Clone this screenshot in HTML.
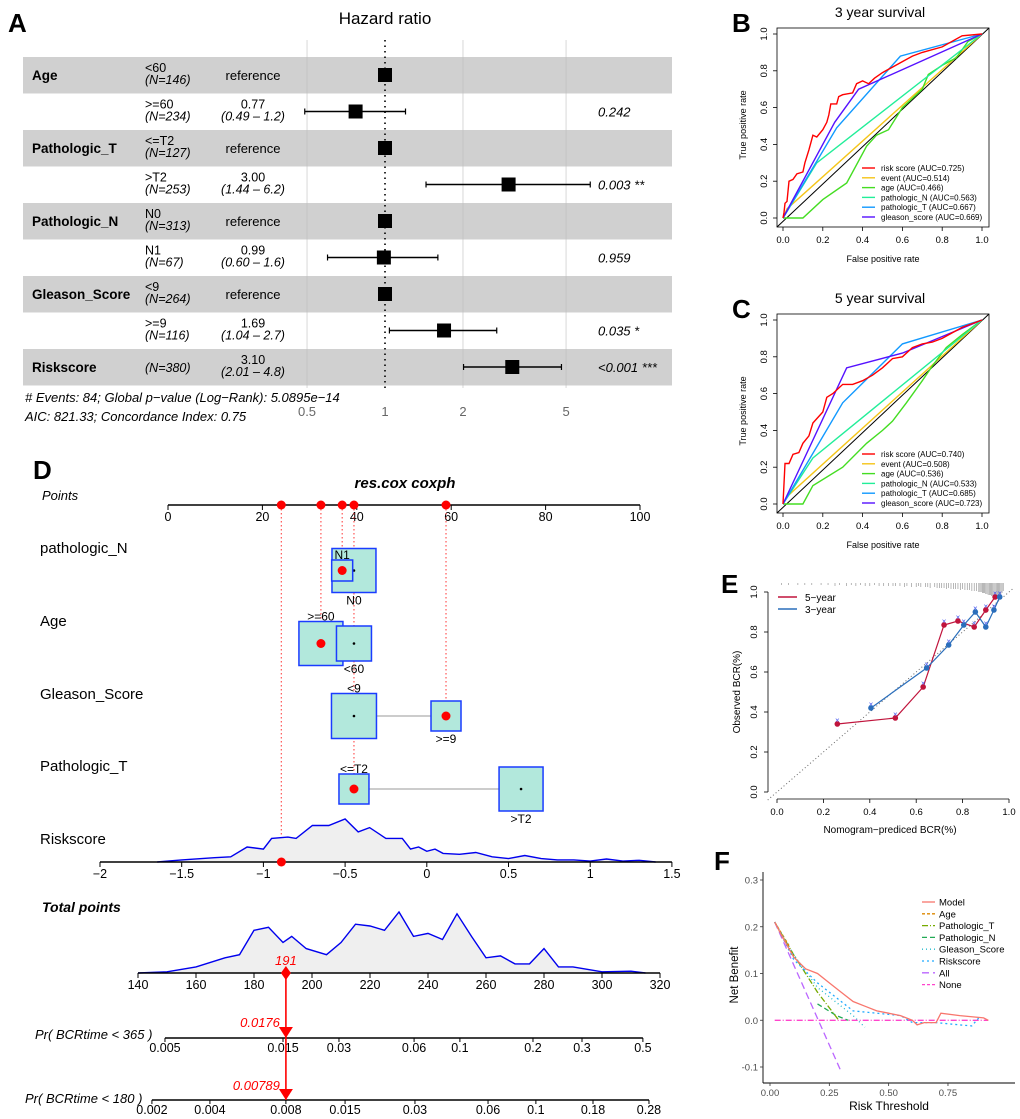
<!DOCTYPE html>
<html><head><meta charset="utf-8"><style>
html,body{margin:0;padding:0;background:#fff}
svg{display:block;font-family:"Liberation Sans",Arial,sans-serif}
</style></head><body>
<svg id="fig" width="1020" height="1119" viewBox="0 0 1020 1119" xmlns="http://www.w3.org/2000/svg">
<text x="8" y="32" font-size="26" font-weight="bold">A</text>
<text x="732" y="32" font-size="26" font-weight="bold">B</text>
<text x="732" y="318" font-size="26" font-weight="bold">C</text>
<text x="33" y="479" font-size="26" font-weight="bold">D</text>
<text x="721" y="593" font-size="26" font-weight="bold">E</text>
<text x="714" y="870" font-size="26" font-weight="bold">F</text>

<g id="forest">
<text x="385" y="24" font-size="17" text-anchor="middle">Hazard ratio</text>
</g>
<g id="rocB">
<text x="880" y="17" font-size="14" text-anchor="middle">3 year survival</text>
</g>
<g id="rocC">
<text x="880" y="303" font-size="14" text-anchor="middle">5 year survival</text>
</g>
<g id="nomo">
<text x="405" y="488" font-size="15" font-weight="bold" font-style="italic" text-anchor="middle">res.cox coxph</text>
</g>
<g id="calib"></g>
<g id="dca"></g>
</svg>
<script>
// ---------------- DATA ----------------
const forestHR = [1, 0.77, 1, 3.00, 1, 0.99, 1, 1.69, 3.10];
const forestLo = [null, 0.49, null, 1.44, null, 0.60, null, 1.04, 2.01];
const forestHi = [null, 1.2, null, 6.2, null, 1.6, null, 2.7, 4.8];
const forestTicks = [0.5, 1, 2, 5];

const rocB_risk_x = [0,0.005,0.01,0.02,0.03,0.05,0.07,0.1,0.11,0.13,0.15,0.17,0.2,0.22,0.23,0.24,0.27,0.28,0.3,0.35,0.37,0.4,0.43,0.46,0.5,0.55,0.6,0.65,0.7,0.8,0.9,1];
const rocB_risk_y = [0,0.03,0.08,0.09,0.2,0.21,0.24,0.25,0.3,0.37,0.45,0.44,0.48,0.52,0.56,0.62,0.62,0.66,0.67,0.68,0.73,0.745,0.73,0.76,0.79,0.82,0.85,0.88,0.9,0.93,0.99,1];
const rocB_event_x = [0,0.02,1];
const rocB_event_y = [0,0.05,1];
const rocB_age_x = [0,0.1,0.2,0.32,0.42,0.47,0.53,0.6,0.7,0.73,0.8,0.87,0.93,1];
const rocB_age_y = [0,0,0.1,0.19,0.39,0.45,0.48,0.6,0.7,0.78,0.83,0.87,0.96,1];
const rocB_N_x = [0,0.17,1];
const rocB_N_y = [0,0.3,1];
const rocB_T_x = [0,0.27,0.59,1];
const rocB_T_y = [0,0.49,0.88,1];
const rocB_G_x = [0,0.26,0.38,1];
const rocB_G_y = [0,0.52,0.7,1];

const rocC_risk_x = [0,0.01,0.03,0.05,0.08,0.1,0.13,0.15,0.2,0.22,0.25,0.3,0.35,0.4,0.45,0.5,0.55,0.6,0.65,0.7,0.75,0.8,0.9,1];
const rocC_risk_y = [0,0.22,0.22,0.27,0.28,0.33,0.37,0.44,0.5,0.58,0.6,0.65,0.65,0.67,0.7,0.74,0.79,0.8,0.85,0.87,0.88,0.9,0.96,1];
const rocC_event_x = [0,0.02,1];
const rocC_event_y = [0,0.04,1];
const rocC_age_x = [0,0.1,0.15,0.3,0.42,0.5,0.55,0.62,0.7,0.75,0.82,0.9,1];
const rocC_age_y = [0,0,0.1,0.2,0.33,0.4,0.45,0.55,0.67,0.75,0.85,0.92,1];
const rocC_N_x = [0,0.15,1];
const rocC_N_y = [0,0.25,1];
const rocC_T_x = [0,0.3,0.6,1];
const rocC_T_y = [0,0.55,0.87,1];
const rocC_G_x = [0,0.32,0.6,1];
const rocC_G_y = [0,0.74,0.82,1];

const rocTicks = [0, 0.2, 0.4, 0.6, 0.8, 1.0];
const rocNamesB = ["risk score (AUC=0.725)","event (AUC=0.514)","age (AUC=0.466)","pathologic_N (AUC=0.563)","pathologic_T (AUC=0.667)","gleason_score (AUC=0.669)"];
const rocNamesC = ["risk score (AUC=0.740)","event (AUC=0.508)","age (AUC=0.536)","pathologic_N (AUC=0.533)","pathologic_T (AUC=0.685)","gleason_score (AUC=0.723)"];

const cal5_x = [0.26,0.51,0.63,0.72,0.78,0.85,0.9,0.94];
const cal5_y = [0.34,0.37,0.525,0.835,0.855,0.825,0.91,0.975];
const cal3_x = [0.405,0.645,0.74,0.805,0.855,0.9,0.935,0.96];
const cal3_y = [0.42,0.62,0.735,0.835,0.9,0.825,0.91,0.975];
const calRug = [0.02,0.05,0.09,0.12,0.15,0.19,0.22,0.25,0.27,0.3,0.32,0.34,0.36,0.38,0.4,0.42,0.44,0.46,0.48,0.5,0.51,0.53,0.55,0.56,0.58,0.6,0.61,0.62,0.64,0.65,0.66,0.68,0.69,0.7,0.71,0.72,0.73,0.74,0.75,0.76,0.77,0.78,0.79,0.8,0.81,0.82,0.83,0.84,0.85,0.86,0.87,0.875,0.88,0.885,0.89,0.895,0.9,0.905,0.91,0.915,0.92,0.925,0.93,0.935,0.94,0.945,0.95,0.955,0.96,0.965,0.97,0.975];
const calRugLen = [2,2,2,2,2,2,2,3,2,3,2,3,2,3,3,2,3,3,3,3,3,3,4,3,4,4,3,4,4,4,5,4,5,5,5,5,6,5,6,6,6,6,7,6,7,7,7,8,8,8,9,9,9,10,10,10,11,11,12,12,12,13,13,14,14,14,15,14,13,12,10,8];
const calTicks = [0, 0.2, 0.4, 0.6, 0.8, 1.0];

const dcaModel_x = [0.02,0.05,0.1,0.15,0.2,0.25,0.3,0.35,0.4,0.45,0.5,0.55,0.6,0.62,0.65,0.7,0.72,0.8,0.9,0.92];
const dcaModel_y = [0.21,0.18,0.135,0.11,0.1,0.08,0.06,0.04,0.03,0.02,0.015,0.01,0,-0.01,-0.005,-0.005,0.015,0.01,0.005,0];
const dcaAll_x = [0.02,0.3];
const dcaAll_y = [0.21,-0.11];
const dcaRisk_x = [0.02,0.1,0.2,0.3,0.35,0.45,0.55,0.6,0.7,0.8,0.85,0.88];
const dcaRisk_y = [0.21,0.13,0.08,0.04,0.02,0.015,0.01,-0.005,-0.005,-0.01,-0.012,0.005];
const dcaGleason_x = [0.02,0.1,0.2,0.3,0.35,0.4];
const dcaGleason_y = [0.21,0.14,0.07,0.03,0.01,-0.015];
const dcaT_x = [0.02,0.1,0.2,0.29];
const dcaT_y = [0.21,0.14,0.06,0];
const dcaN_x = [0.2,0.28,0.33];
const dcaN_y = [0.035,0.01,0];
const dcaAge_x = [0.02,0.08];
const dcaAge_y = [0.21,0.16];
const dcaNone_x = [0.02,0.92];
const dcaNone_y = [0,0];
const dcaXTicks = [0, 0.25, 0.5, 0.75];
const dcaXLabels = ["0.00","0.25","0.50","0.75"];
const dcaYTicks = [-0.1, 0, 0.1, 0.2, 0.3];
const dcaYLabels = ["-0.1","0.0","0.1","0.2","0.3"];

const pointsTicks = [0,20,40,60,80,100];
const selPoints = [24, 32.4, 36.9, 39.4, 58.9];
const riskTicks = [-2,-1.5,-1,-0.5,0,0.5,1,1.5];
const riskDens_x = [-1.65,-1.5,-1.3,-1.2,-1.1,-1.0,-0.95,-0.85,-0.8,-0.7,-0.6,-0.5,-0.42,-0.35,-0.25,-0.15,-0.1,-0.05,0,0.05,0.1,0.2,0.3,0.4,0.5,0.6,0.7,0.8,0.9,1.0,1.1,1.2,1.3,1.4];
const riskDens_y = [0,0.05,0.1,0.12,0.35,0.3,0.55,0.58,0.55,0.85,0.85,1.0,0.7,0.8,0.55,0.55,0.3,0.35,0.25,0.3,0.2,0.18,0.22,0.12,0.08,0.15,0.08,0.05,0.05,0.02,0.07,0.02,0.04,0];
const selRisk = -0.89;
const totalTicks = [140,160,180,200,220,240,260,280,300,320];
const totDens_x = [140,150,160,170,175,180,185,190,193,198,205,210,215,220,225,230,235,240,245,250,255,260,265,270,275,280,285,290,300,310,315];
const totDens_y = [0,0.02,0.1,0.25,0.3,0.7,0.75,0.5,0.6,0.4,0.3,0.5,0.8,0.77,0.7,1.0,0.6,0.65,0.55,0.97,0.6,0.25,0.28,0.15,0.15,0.4,0.1,0.1,0.02,0.03,0];
const selTotal = 191;
const pr365Labels = ["0.005","0.015","0.03","0.06","0.1","0.2","0.3","0.5"];
const pr365AtTotal = [149.3,190,209.3,235.2,251,276.2,293.1,314.1];
const pr180Labels = ["0.002","0.004","0.008","0.015","0.03","0.06","0.1","0.18","0.28"];
const pr180AtTotal = [144.8,164.8,191,211.4,235.5,260.7,277.2,296.9,316.2];

// ---------------- HELPERS ----------------
const NS = "http://www.w3.org/2000/svg";
function mk(parent, tag, attrs, txt){
  const e = document.createElementNS(NS, tag);
  for (const k in attrs) e.setAttribute(k, attrs[k]);
  if (txt !== undefined) e.textContent = txt;
  parent.appendChild(e);
  return e;
}
function pathFrom(xs, ys, sx, sy){
  let d = "";
  for (let i=0;i<xs.length;i++) d += (i?"L":"M") + sx(xs[i]).toFixed(1) + "," + sy(ys[i]).toFixed(1);
  return d;
}

// ---------------- FOREST (A) ----------------
(function(){
  const g = document.getElementById('forest');
  const fx = v => 385 + Math.log(v)*112.5;
  const rowTop = i => 57 + i*36.5;
  const rowC = i => 75 + i*36.5;
  for (let i=0;i<9;i+=2){
    const r = mk(g,'rect',{x:23,y:rowTop(i),width:649,height:36.5,fill:'#d0d0d0'});
    
    
  }
  forestTicks.forEach(t=>{
    if (t===1) return;
    const l = mk(g,'line',{x1:fx(t),x2:fx(t),y1:40,y2:388,stroke:'#bbbbbb','stroke-width':0.8,opacity:0.7});
    
    
  });
  forestTicks.forEach(t=>{
    const tx = mk(g,'text',{x:fx(t),y:416,'font-size':13,fill:'#666','text-anchor':'middle'}, String(t));
    
    
  });
  const ref = mk(g,'line',{x1:fx(1),x2:fx(1),y1:40,y2:388,stroke:'#000','stroke-width':1.6,'stroke-dasharray':'1.5,4'});
  
  
  const labels = [["Age",0],["Pathologic_T",2],["Pathologic_N",4],["Gleason_Score",6],["Riskscore",8]];
  labels.forEach(([t,i])=>{
    const e = mk(g,'text',{x:32,y:rowC(i)+5,'font-size':13.5,'font-weight':'bold'},t);
    
    
  });
  const sub = ["<60",">=60","<=T2",">T2","N0","N1","<9",">=9",""];
  const nn = ["(N=146)","(N=234)","(N=127)","(N=253)","(N=313)","(N=67)","(N=264)","(N=116)","(N=380)"];
  const hrTxt = ["reference","0.77","reference","3.00","reference","0.99","reference","1.69","3.10"];
  const ciTxt = ["","(0.49 – 1.2)","","(1.44 – 6.2)","","(0.60 – 1.6)","","(1.04 – 2.7)","(2.01 – 4.8)"];
  const pTxt = ["","0.242","","0.003 **","","0.959","","0.035 *","<0.001 ***"];
  for (let i=0;i<9;i++){
    const c = rowC(i);
    if (sub[i]){
      const a = mk(g,'text',{x:145,y:c-3,'font-size':12.5},sub[i]);
      
      
      const b = mk(g,'text',{x:145,y:c+9,'font-size':12.5,'font-style':'italic'},nn[i]);
      
      
    } else {
      const b = mk(g,'text',{x:145,y:c+5,'font-size':12.5,'font-style':'italic'},nn[i]);
      
      
    }
    if (hrTxt[i]==="reference"){
      const h = mk(g,'text',{x:253,y:c+5,'font-size':13,'text-anchor':'middle'},"reference");
      
      
    } else {
      const h = mk(g,'text',{x:253,y:c-3,'font-size':12.5,'text-anchor':'middle'},hrTxt[i]);
      
      
      const ci = mk(g,'text',{x:253,y:c+9,'font-size':12.5,'font-style':'italic','text-anchor':'middle'},ciTxt[i]);
      
      
    }
    if (pTxt[i]){
      const p = mk(g,'text',{x:598,y:c+5,'font-size':13,'font-style':'italic'},pTxt[i]);
      
      
    }
    if (forestLo[i]!==null){
      const l = mk(g,'line',{x1:fx(forestLo[i]),x2:fx(forestHi[i]),y1:c,y2:c,stroke:'#000','stroke-width':1.6});
      
      
      [forestLo[i],forestHi[i]].forEach(v=>{
        const cap = mk(g,'line',{x1:fx(v),x2:fx(v),y1:c-3,y2:c+3,stroke:'#000','stroke-width':1.2});
        
        
      });
    }
    const s = mk(g,'rect',{x:fx(forestHR[i])-7,y:c-7,width:14,height:14,fill:'#000'});
    
    
  }
  const f1 = mk(g,'text',{x:25,y:402,'font-size':13,'font-style':'italic'},"# Events: 84; Global p−value (Log−Rank): 5.0895e−14");
  
  
  const f2 = mk(g,'text',{x:25,y:421,'font-size':13,'font-style':'italic'},"AIC: 821.33; Concordance Index: 0.75");
  
  
})();

// ---------------- ROC (B, C) ----------------
function drawROC(id, dy, series, names){
  const g = document.getElementById(id);
  const sx = v => 783 + v*199;
  const sy = v => 218 + dy - v*184;
  const box = mk(g,'rect',{x:777,y:28+dy,width:212,height:199,fill:'none',stroke:'#000','stroke-width':0.8});
  
  
  rocTicks.forEach(t=>{
    const a = mk(g,'line',{x1:sx(t),x2:sx(t),y1:227+dy,y2:231+dy,stroke:'#000','stroke-width':0.8});
    
    
    const at = mk(g,'text',{x:sx(t),y:243+dy,'font-size':9.5,'text-anchor':'middle'},t.toFixed(1));
    
    
    const b = mk(g,'line',{x1:773,x2:777,y1:sy(t),y2:sy(t),stroke:'#000','stroke-width':0.8});
    
    
    const bt = mk(g,'text',{x:767,y:sy(t),'font-size':9.5,'text-anchor':'middle',transform:`rotate(-90 767 ${sy(t)})`},t.toFixed(1));
    
    
  });
  const xt = mk(g,'text',{x:883,y:262+dy,'font-size':9,'text-anchor':'middle'},"False positive rate");
  
  
  const yt = mk(g,'text',{x:746,y:125+dy,'font-size':9,'text-anchor':'middle',transform:`rotate(-90 746 ${125+dy})`},"True positive rate");
  
  
  const diag = mk(g,'line',{x1:777,y1:227+dy,x2:989,y2:28+dy,stroke:'#000','stroke-width':1});
  
  
  const cols = ['#ff0000','#f5c518','#44dd22','#22ee99','#1199ff','#5511ff'];
  const order = [1,2,3,4,5,0];
  order.forEach(k=>{
    const s = series[k];
    const p = mk(g,'path',{d:pathFrom(s[0],s[1],sx,sy),fill:'none',stroke:cols[k],'stroke-width':1.4});
    
    
  });
  names.forEach((n,k)=>{
    const y = 168 + dy + k*9.8;
    const l = mk(g,'line',{x1:862,x2:875,y1:y,y2:y,stroke:cols[k],'stroke-width':1.4});
    
    
    const t = mk(g,'text',{x:881,y:y+3,'font-size':8},n);
    
    
  });
}
drawROC('rocB',0,[[rocB_risk_x,rocB_risk_y],[rocB_event_x,rocB_event_y],[rocB_age_x,rocB_age_y],[rocB_N_x,rocB_N_y],[rocB_T_x,rocB_T_y],[rocB_G_x,rocB_G_y]],rocNamesB);
drawROC('rocC',286,[[rocC_risk_x,rocC_risk_y],[rocC_event_x,rocC_event_y],[rocC_age_x,rocC_age_y],[rocC_N_x,rocC_N_y],[rocC_T_x,rocC_T_y],[rocC_G_x,rocC_G_y]],rocNamesC);

// ---------------- CALIBRATION (E) ----------------
(function(){
  const g = document.getElementById('calib');
  const sx = v => 777 + v*232;
  const sy = v => 792 - v*200;
  const la = mk(g,'line',{x1:768,x2:768,y1:sy(0),y2:sy(1),stroke:'#000','stroke-width':0.8});
  
  
  const ba = mk(g,'line',{x1:sx(0),x2:sx(1),y1:799,y2:799,stroke:'#000','stroke-width':0.8});
  
  
  calTicks.forEach(t=>{
    const a = mk(g,'line',{x1:sx(t),x2:sx(t),y1:799,y2:803,stroke:'#000','stroke-width':0.8});
    
    
    const at = mk(g,'text',{x:sx(t),y:815,'font-size':9.5,'text-anchor':'middle'},t.toFixed(1));
    
    
    const b = mk(g,'line',{x1:764,x2:768,y1:sy(t),y2:sy(t),stroke:'#000','stroke-width':0.8});
    
    
    const bt = mk(g,'text',{x:757,y:sy(t),'font-size':9.5,'text-anchor':'middle',transform:`rotate(-90 757 ${sy(t)})`},t.toFixed(1));
    
    
  });
  const xt = mk(g,'text',{x:890,y:833,'font-size':10,'text-anchor':'middle'},"Nomogram−prediced BCR(%)");
  
  
  const yt = mk(g,'text',{x:740,y:692,'font-size':10,'text-anchor':'middle',transform:'rotate(-90 740 692)'},"Observed BCR(%)");
  
  
  const d = mk(g,'line',{x1:sx(-0.04),y1:sy(-0.04),x2:sx(1.02),y2:sy(1.02),stroke:'#666','stroke-width':1,'stroke-dasharray':'1,2.5'});
  
  
  calRug.forEach((v,i)=>{
    const r = mk(g,'line',{x1:sx(v),x2:sx(v),y1:583,y2:583+calRugLen[i],stroke:'#888','stroke-width':0.6});
    
    
  });
  [[cal5_x,cal5_y,'#c0143c','5-year'],[cal3_x,cal3_y,'#2a6ebb','3-year']].forEach(([xs,ys,c,n])=>{
    const p = mk(g,'path',{d:pathFrom(xs,ys,sx,sy),fill:'none',stroke:c,'stroke-width':1.2});
    
    
    xs.forEach((x,i)=>{
      const m = mk(g,'text',{x:sx(x),y:sy(ys[i])-1,'font-size':8,fill:'#4455ee','text-anchor':'middle'},"×");
      
      
      const cc = mk(g,'circle',{cx:sx(x),cy:sy(ys[i]),r:2.8,fill:c});
      
      
    });
  });
  [['#c0143c','5−year',597],['#2a6ebb','3−year',609]].forEach(([c,t,y])=>{
    const l = mk(g,'line',{x1:778,x2:797,y1:y,y2:y,stroke:c,'stroke-width':1.4});
    
    
    const tx = mk(g,'text',{x:805,y:y+4,'font-size':10},t);
    
    
  });
})();

// ---------------- DCA (F) ----------------
(function(){
  const g = document.getElementById('dca');
  const sx = v => 770 + v*237.3;
  const sy = v => 1020.25 - v*467.5;
  const la = mk(g,'line',{x1:763,x2:763,y1:872,y2:1083,stroke:'#000','stroke-width':0.9});
  
  
  const ba = mk(g,'line',{x1:763,x2:1015,y1:1083,y2:1083,stroke:'#000','stroke-width':0.9});
  
  
  dcaYTicks.forEach((t,i)=>{
    const a = mk(g,'line',{x1:760,x2:763,y1:sy(t),y2:sy(t),stroke:'#333','stroke-width':0.8});
    
    
    const at = mk(g,'text',{x:758,y:sy(t)+3.5,'font-size':9.5,fill:'#4d4d4d','text-anchor':'end'},dcaYLabels[i]);
    
    
  });
  dcaXTicks.forEach((t,i)=>{
    const a = mk(g,'line',{x1:sx(t),x2:sx(t),y1:1083,y2:1086,stroke:'#333','stroke-width':0.8});
    
    
    const at = mk(g,'text',{x:sx(t),y:1096,'font-size':9.5,fill:'#4d4d4d','text-anchor':'middle'},dcaXLabels[i]);
    
    
  });
  const xt = mk(g,'text',{x:889,y:1110,'font-size':12,'text-anchor':'middle'},"Risk Threshold");
  
  
  const yt = mk(g,'text',{x:738,y:975,'font-size':11.5,'text-anchor':'middle',transform:'rotate(-90 738 975)'},"Net Benefit");
  
  
  const ser = [
    ['none',dcaNone_x,dcaNone_y,'#ff44cc','6,2,1,2'],
    ['all',dcaAll_x,dcaAll_y,'#bb66ff','7,4'],
    ['pathologic-n',dcaN_x,dcaN_y,'#22aa55','5,3'],
    ['pathologic-t',dcaT_x,dcaT_y,'#77aa00','6,2,1,2'],
    ['age',dcaAge_x,dcaAge_y,'#dd8800','3,2'],
    ['gleason-score',dcaGleason_x,dcaGleason_y,'#22bbcc','1,3'],
    ['riskscore',dcaRisk_x,dcaRisk_y,'#22aaff','2,3'],
    ['model',dcaModel_x,dcaModel_y,'#f8766d','']
  ];
  ser.forEach(([n,xs,ys,c,da])=>{
    const attrs = {d:pathFrom(xs,ys,sx,sy),fill:'none',stroke:c,'stroke-width':1.3};
    if (da) attrs['stroke-dasharray'] = da;
    const p = mk(g,'path',attrs);
    
    
  });
  const leg = [['Model','#f8766d',''],['Age','#dd8800','3,2'],['Pathologic_T','#77aa00','6,2,1,2'],['Pathologic_N','#22aa55','5,3'],['Gleason_Score','#22bbcc','1,3'],['Riskscore','#22aaff','2,3'],['All','#bb66ff','7,4'],['None','#ff44cc','3,2']];
  leg.forEach(([n,c,da],k)=>{
    const y = 902 + k*11.8;
    const attrs = {x1:922,x2:935,y1:y,y2:y,stroke:c,'stroke-width':1.3};
    if (da) attrs['stroke-dasharray'] = da;
    const l = mk(g,'line',attrs);
    
    
    const t = mk(g,'text',{x:939,y:y+3.5,'font-size':9.5},n);
    
    
  });
})();

// ---------------- NOMOGRAM (D) ----------------
(function(){
  const g = document.getElementById('nomo');
  const px = v => 168 + v*4.72;
  const rx = v => 100 + (v+2)*163.4;
  const tx = v => 138 + (v-140)*2.9;
  const lbl = (t,x,y,extra,name)=>{
    const e = mk(g,'text',Object.assign({x:x,y:y,'font-size':14},extra||{}),t);
    
    
    return e;
  };
  lbl("Points",42,500,{'font-style':'italic','font-size':13},'points-label');
  lbl("pathologic_N",40,553,{'font-size':15},'pathologic-n-label');
  lbl("Age",40,626,{'font-size':15},'age-label');
  lbl("Gleason_Score",40,699,{'font-size':15},'gleason-score-label');
  lbl("Pathologic_T",40,771,{'font-size':15},'pathologic-t-label');
  lbl("Riskscore",40,844,{'font-size':15},'riskscore-label');
  lbl("Total points",42,912,{'font-style':'italic','font-weight':'bold','font-size':14},'total-points-label');
  lbl("Pr( BCRtime < 365 )",35,1039,{'font-style':'italic','font-size':13},'pr-365-label');
  lbl("Pr( BCRtime < 180 )",25,1103,{'font-style':'italic','font-size':13},'pr-180-label');

  const pa = mk(g,'line',{x1:px(0),x2:px(100),y1:505,y2:505,stroke:'#000','stroke-width':1.5});
  
  
  pointsTicks.forEach(t=>{
    const l = mk(g,'line',{x1:px(t),x2:px(t),y1:505,y2:510,stroke:'#000'});
    
    
    lbl(String(t),px(t),521,{'font-size':12.5,'text-anchor':'middle'},'points-tick-label');
  });
  const dotTargets = [[selPoints[0],862],[selPoints[1],643.5],[selPoints[2],570.5],[selPoints[3],789],[selPoints[4],716]];
  dotTargets.forEach(([v,y])=>{
    const l = mk(g,'line',{x1:px(v),x2:px(v),y1:505,y2:y,stroke:'#ff3333','stroke-width':1,'stroke-dasharray':'1.5,2.5'});
    
    
  });
  const boxes = [
    ['N0',39.4,570.5,44,'below'],['N1',36.9,570.5,21,'above'],
    ['>=60',32.4,643.5,44,'above'],['<60',39.4,643.5,35,'below'],
    ['<9',39.4,716,45,'above'],['>=9',58.9,716,30,'below'],
    ['<=T2',39.4,789,30,'above'],['>T2',74.8,789,44,'below']
  ];
  const conn = [[4,5],[6,7]];
  conn.forEach(([a,b])=>{
    const l = mk(g,'line',{x1:px(boxes[a][1]),x2:px(boxes[b][1]),y1:boxes[a][2],y2:boxes[b][2],stroke:'#bbb','stroke-width':1.5});
    
    
  });
  const selected = ['N1','>=60','>=9','<=T2'];
  boxes.forEach(([n,v,y,s,pos])=>{
    const r = mk(g,'rect',{x:px(v)-s/2,y:y-s/2,width:s,height:s,fill:'#b2e8dc',stroke:'#1a3cff','stroke-width':1.5});
    
    
    const ly = pos==='above' ? y - s/2 - 1 : y + s/2 + 12;
    lbl(n, px(v), ly, {'font-size':12,'text-anchor':'middle'}, 'level-label');
    if (selected.indexOf(n)>=0){
      const c = mk(g,'circle',{cx:px(v),cy:y,r:4.5,fill:'#ff0000'});
      
      
    } else {
      const c = mk(g,'circle',{cx:px(v),cy:y,r:1.3,fill:'#000'});
      
      
    }
  });
  selPoints.forEach(v=>{
    const c = mk(g,'circle',{cx:px(v),cy:505,r:4.5,fill:'#ff0000'});
    
    
  });
  const rdy = v => 862 - v*43;
  let dR = "M"+rx(riskDens_x[0])+",862 ";
  riskDens_x.forEach((x,i)=>{ dR += "L"+rx(x).toFixed(1)+","+rdy(riskDens_y[i]).toFixed(1)+" "; });
  dR += "L"+rx(riskDens_x[riskDens_x.length-1])+",862Z";
  const fr = mk(g,'path',{d:dR,fill:'#efefef',stroke:'none'});
  
  
  const lr = mk(g,'path',{d:pathFrom(riskDens_x,riskDens_y,rx,rdy),fill:'none',stroke:'#0000ee','stroke-width':1.4});
  
  
  const ra = mk(g,'line',{x1:rx(-2),x2:rx(1.5),y1:862,y2:862,stroke:'#000','stroke-width':1.5});
  
  
  riskTicks.forEach(t=>{
    const l = mk(g,'line',{x1:rx(t),x2:rx(t),y1:862,y2:867,stroke:'#000'});
    
    
    lbl(t<0?"−"+Math.abs(t):String(t),rx(t),878,{'font-size':12.5,'text-anchor':'middle'},'riskscore-tick-label');
  });
  const rd = mk(g,'circle',{cx:rx(selRisk),cy:862,r:4.5,fill:'#ff0000'});
  
  

  const tdy = v => 973 - v*61;
  let dT = "M"+tx(totDens_x[0])+",973 ";
  totDens_x.forEach((x,i)=>{ dT += "L"+tx(x).toFixed(1)+","+tdy(totDens_y[i]).toFixed(1)+" "; });
  dT += "L"+tx(totDens_x[totDens_x.length-1])+",973Z";
  const ft = mk(g,'path',{d:dT,fill:'#efefef',stroke:'none'});
  
  
  const lt = mk(g,'path',{d:pathFrom(totDens_x,totDens_y,tx,tdy),fill:'none',stroke:'#0000ee','stroke-width':1.4});
  
  
  const ta = mk(g,'line',{x1:tx(140),x2:tx(320),y1:973,y2:973,stroke:'#000','stroke-width':1.5});
  
  
  totalTicks.forEach(t=>{
    const l = mk(g,'line',{x1:tx(t),x2:tx(t),y1:973,y2:978,stroke:'#000'});
    
    
    lbl(String(t),tx(t),989,{'font-size':12.5,'text-anchor':'middle'},'total-points-tick-label');
  });
  [[pr365AtTotal,pr365Labels,1038,'pr-365'],[pr180AtTotal,pr180Labels,1100,'pr-180']].forEach(([at,labs,y,n])=>{
    const a = mk(g,'line',{x1:tx(at[0]),x2:tx(at[at.length-1]),y1:y,y2:y,stroke:'#000','stroke-width':1.5});
    
    
    at.forEach((v,i)=>{
      const l = mk(g,'line',{x1:tx(v),x2:tx(v),y1:y,y2:y+4,stroke:'#000'});
      
      
      lbl(labs[i],tx(v),y+14,{'font-size':12.5,'text-anchor':'middle'},n+'-tick-label');
    });
  });
  const sxT = tx(selTotal);
  const vl = mk(g,'line',{x1:sxT,x2:sxT,y1:973,y2:1100,stroke:'#ff0000','stroke-width':1.6});
  
  
  const dia = mk(g,'path',{d:`M${sxT},966 L${sxT+5},973 L${sxT},980 L${sxT-5},973Z`,fill:'#ff0000'});
  
  
  [1038,1100].forEach(y=>{
    const tr = mk(g,'path',{d:`M${sxT-7},${y-11} L${sxT+7},${y-11} L${sxT},${y}Z`,fill:'#ff0000'});
    
    
  });
  lbl(String(selTotal),sxT,965,{'font-size':13,'font-style':'italic',fill:'#ff0000','text-anchor':'middle'},'selected-total-value');
  lbl("0.0176",sxT-6,1027,{'font-size':13,'font-style':'italic',fill:'#ff0000','text-anchor':'end'},'pr-365-value');
  lbl("0.00789",sxT-6,1090,{'font-size':13,'font-style':'italic',fill:'#ff0000','text-anchor':'end'},'pr-180-value');
})();
</script>
</body></html>
